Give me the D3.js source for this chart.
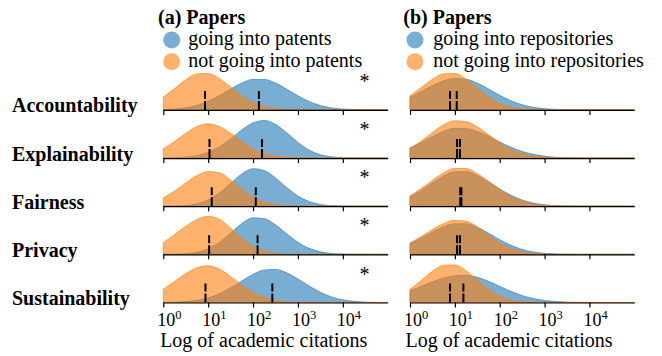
<!DOCTYPE html>
<html>
<head>
<meta charset="utf-8">
<script src="https://cdn.jsdelivr.net/npm/d3@7"></script>
<style>
  html, body { margin: 0; padding: 0; background: #fff; }
  svg { display: block; font-family: "Liberation Serif", "Times New Roman", serif; }
</style>
</head>
<body>
<svg id="chart" width="662" height="356"></svg>
<script>
// ---------------- data ----------------
const categories = ["Accountability", "Explainability", "Fairness", "Privacy", "Sustainability"];

// sample positions (log10 of academic citations) of the density curves
const gridLog = [0, 0.25, 0.5, 0.75, 1, 1.25, 1.5, 1.75, 2, 2.25, 2.5, 2.75, 3, 3.25, 3.5, 3.75, 4, 4.25, 4.5, 4.75, 5];

// (a) papers going / not going into patents : density per row
const patentsGoing = [
  [0.006, 0.018, 0.042, 0.092, 0.172, 0.286, 0.418, 0.538, 0.610, 0.610, 0.536, 0.414, 0.282, 0.168, 0.088, 0.040, 0.016, 0.006, 0.002, 0, 0],
  [0.002, 0.006, 0.018, 0.048, 0.112, 0.224, 0.384, 0.562, 0.704, 0.752, 0.674, 0.504, 0.312, 0.160, 0.068, 0.024, 0.008, 0.002, 0, 0, 0],
  [0.000, 0.004, 0.016, 0.048, 0.126, 0.266, 0.458, 0.646, 0.750, 0.714, 0.566, 0.372, 0.202, 0.092, 0.034, 0.010, 0.004, 0, 0, 0, 0],
  [0.000, 0.004, 0.014, 0.042, 0.112, 0.240, 0.424, 0.616, 0.730, 0.714, 0.590, 0.412, 0.244, 0.120, 0.052, 0.018, 0.006, 0.002, 0, 0, 0],
  [0.002, 0.006, 0.018, 0.044, 0.092, 0.176, 0.294, 0.432, 0.564, 0.650, 0.660, 0.594, 0.472, 0.332, 0.206, 0.112, 0.054, 0.024, 0.008, 0.002, 0]
];
const patentsNotGoing = [
  [0.256, 0.426, 0.604, 0.720, 0.728, 0.626, 0.456, 0.282, 0.150, 0.068, 0.026, 0.008, 0.002, 0, 0, 0, 0, 0, 0, 0, 0],
  [0.186, 0.330, 0.496, 0.632, 0.686, 0.632, 0.496, 0.330, 0.186, 0.090, 0.036, 0.014, 0.004, 0, 0, 0, 0, 0, 0, 0, 0],
  [0.168, 0.302, 0.464, 0.612, 0.694, 0.668, 0.528, 0.342, 0.182, 0.080, 0.028, 0.008, 0.002, 0, 0, 0, 0, 0, 0, 0, 0],
  [0.240, 0.394, 0.560, 0.698, 0.760, 0.702, 0.528, 0.324, 0.160, 0.064, 0.022, 0.006, 0, 0, 0, 0, 0, 0, 0, 0, 0],
  [0.266, 0.420, 0.578, 0.696, 0.734, 0.668, 0.522, 0.350, 0.202, 0.100, 0.042, 0.016, 0.004, 0.002, 0, 0, 0, 0, 0, 0, 0]
];
// (b) papers going / not going into repositories : density per row
const reposGoing = [
  [0.252, 0.370, 0.488, 0.582, 0.630, 0.614, 0.536, 0.420, 0.292, 0.184, 0.104, 0.052, 0.024, 0.010, 0.004, 0, 0, 0, 0, 0, 0],
  [0.200, 0.310, 0.430, 0.534, 0.594, 0.590, 0.532, 0.436, 0.322, 0.218, 0.132, 0.074, 0.036, 0.016, 0.006, 0.002, 0, 0, 0, 0, 0],
  [0.188, 0.316, 0.468, 0.606, 0.690, 0.690, 0.614, 0.488, 0.346, 0.218, 0.124, 0.062, 0.028, 0.012, 0.004, 0.002, 0, 0, 0, 0, 0],
  [0.216, 0.328, 0.448, 0.552, 0.612, 0.610, 0.540, 0.422, 0.294, 0.182, 0.098, 0.048, 0.020, 0.008, 0.002, 0, 0, 0, 0, 0, 0],
  [0.236, 0.324, 0.414, 0.488, 0.536, 0.544, 0.504, 0.424, 0.322, 0.224, 0.140, 0.080, 0.040, 0.020, 0.008, 0.004, 0.002, 0, 0, 0, 0]
];
const reposNotGoing = [
  [0.282, 0.450, 0.614, 0.722, 0.728, 0.618, 0.442, 0.266, 0.134, 0.056, 0.020, 0.006, 0, 0, 0, 0, 0, 0, 0, 0, 0],
  [0.198, 0.340, 0.512, 0.664, 0.746, 0.730, 0.624, 0.470, 0.310, 0.178, 0.090, 0.040, 0.016, 0.006, 0.002, 0, 0, 0, 0, 0, 0],
  [0.210, 0.354, 0.520, 0.670, 0.758, 0.752, 0.654, 0.500, 0.334, 0.196, 0.102, 0.046, 0.018, 0.006, 0.002, 0, 0, 0, 0, 0, 0],
  [0.228, 0.356, 0.496, 0.616, 0.682, 0.664, 0.552, 0.388, 0.234, 0.120, 0.052, 0.020, 0.006, 0.002, 0, 0, 0, 0, 0, 0, 0],
  [0.264, 0.442, 0.624, 0.746, 0.752, 0.636, 0.448, 0.264, 0.130, 0.054, 0.018, 0.006, 0.002, 0, 0, 0, 0, 0, 0, 0, 0]
];

// medians (academic citations)
const patentsMedianGoing = [135, 158, 115, 126, 269];
const patentsMedianNot = [8.5, 10.7, 12, 10.5, 8.7];
const reposMedianGoing = [11, 13, 14, 13, 15.5];
const reposMedianNot = [7.8, 11.2, 13.2, 11.2, 7.8];

// significance markers
const patentsSignificant = [true, true, true, true, true];
const reposSignificant = [false, false, false, false, false];

// axis
const tickValues = [1, 10, 100, 1000, 10000];
const tickExponents = ["0", "1", "2", "3", "4"];
const xDomain = [1, 100000];

const panels = [
  { title: "(a) Papers", going: "going into patents", notGoing: "not going into patents",
    goingData: patentsGoing, notData: patentsNotGoing, medG: patentsMedianGoing, medN: patentsMedianNot,
    sig: patentsSignificant, x0: 163.3, x1: 387.7, titleX: 158, circleX: 171.7, textX: 188.3, labelX: 263.7 },
  { title: "(b) Papers", going: "going into repositories", notGoing: "not going into repositories",
    goingData: reposGoing, notData: reposNotGoing, medG: reposMedianGoing, medN: reposMedianNot,
    sig: reposSignificant, x0: 410, x1: 634.3, titleX: 403.3, circleX: 415, textX: 433.3, labelX: 509 }
];

// ---------------- drawing ----------------
const BLUE = "#1f77b4", ORANGE = "#ff7f0e";
const svg = d3.select("#chart");

const row = d3.scalePoint().domain(categories).range([109.9, 302.5]);
const h = d3.scaleLinear().domain([0, 1]).range([0, 50]);

// row labels
svg.selectAll("text.rowlabel").data(categories).join("text")
  .attr("class", "rowlabel")
  .attr("x", 12).attr("y", d => row(d) + 2.5)
  .attr("font-size", 20).attr("font-weight", "bold").attr("fill", "#000")
  .text(d => d);

panels.forEach(p => {
  const x = d3.scaleLog().domain(xDomain).range([p.x0, p.x1]);
  const g = svg.append("g");

  // legend
  g.append("text").attr("x", p.titleX).attr("y", 24)
    .attr("font-size", 20).attr("font-weight", "bold").text(p.title);
  const leg = [{ c: BLUE, t: p.going, y: 40 }, { c: ORANGE, t: p.notGoing, y: 61.7 }];
  leg.forEach(l => {
    g.append("circle").attr("cx", p.circleX).attr("cy", l.y).attr("r", 8.5)
      .attr("fill", l.c).attr("fill-opacity", 0.6);
    g.append("text").attr("x", p.textX).attr("y", l.y + 5)
      .attr("font-size", 20).text(l.t);
  });

  categories.forEach((cat, i) => {
    const base = row(cat);
    const area = d3.area()
      .x((d, j) => x(Math.pow(10, gridLog[j])))
      .y0(base)
      .y1(d => base - h(d))
      .curve(d3.curveMonotoneX);

    [[p.goingData[i], BLUE], [p.notData[i], ORANGE]].forEach(([vals, c]) => {
      g.append("path").datum(vals).attr("d", area)
        .attr("fill", c).attr("fill-opacity", 0.6)
        .attr("stroke", c).attr("stroke-opacity", 0.6).attr("stroke-width", 1);
    });

    // median markers
    [p.medN[i], p.medG[i]].forEach(m => {
      g.append("line")
        .attr("x1", x(m)).attr("x2", x(m))
        .attr("y1", base).attr("y2", base - 19)
        .attr("stroke", "#000").attr("stroke-width", 2)
        .attr("stroke-dasharray", "9,2");
    });

    // axis
    const axis = d3.axisBottom(x).tickValues(tickValues).tickSize(5).tickSizeOuter(0).tickFormat("");
    const ag = g.append("g").attr("transform", `translate(0,${base})`).call(axis);
    ag.select(".domain").attr("stroke", "#000").attr("stroke-width", 1.2);
    ag.selectAll(".tick line").attr("stroke", "#000").attr("stroke-width", 1.2);

    if (p.sig[i]) {
      g.append("text").attr("x", 364.5).attr("y", base - 22)
        .attr("text-anchor", "middle").attr("font-size", 20).text("*");
    }

    if (i === categories.length - 1) {
      tickValues.forEach((t, k) => {
        const tx = g.append("text").attr("x", x(t) - 6).attr("y", base + 23).attr("font-size", 18);
        tx.append("tspan").text("10");
        tx.append("tspan").attr("dy", -7).attr("font-size", 12.5).text(tickExponents[k]);
      });
      g.append("text").attr("x", p.labelX).attr("y", base + 44.5)
        .attr("text-anchor", "middle").attr("font-size", 20).text("Log of academic citations");
    }
  });
});
</script>
</body>
</html>
